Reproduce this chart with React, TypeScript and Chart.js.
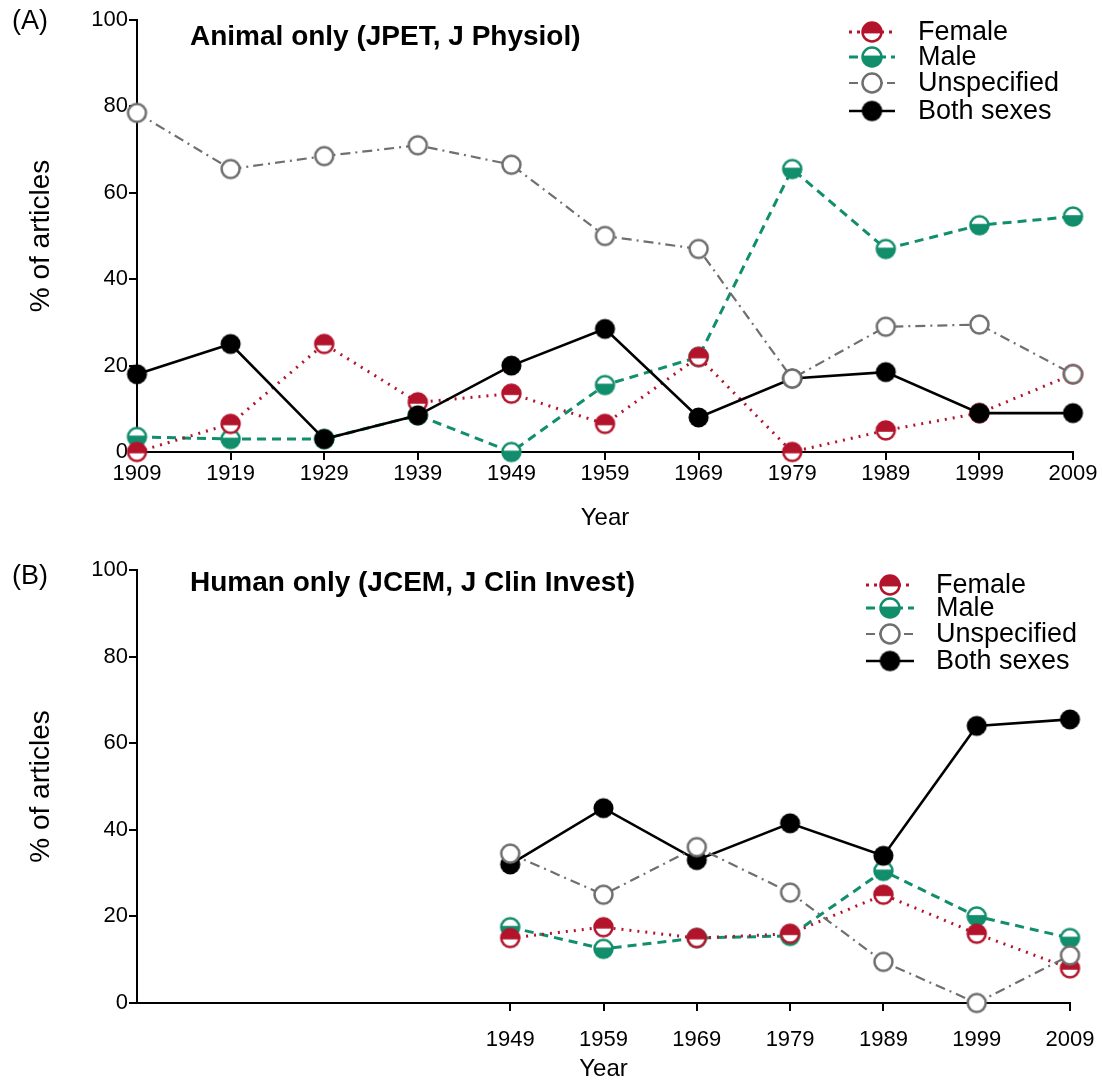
import React, { useEffect, useRef } from "react";
import { Chart, registerables } from "chart.js";
Chart.register(...registerables);

// ---------- data ----------
const yearsA = [1909, 1919, 1929, 1939, 1949, 1959, 1969, 1979, 1989, 1999, 2009];
const femaleA = [0, 6.5, 25, 11.5, 13.5, 6.5, 22, 0, 5, 9, 18];
const maleA = [3.5, 3, 3, 8.5, 0, 15.5, 22, 65.5, 47, 52.5, 54.5];
const unspecA = [78.5, 65.5, 68.5, 71, 66.5, 50, 47, 17, 29, 29.5, 18];
const bothA = [18, 25, 3, 8.5, 20, 28.5, 8, 17, 18.5, 9, 9];

const yearsB = [1949, 1959, 1969, 1979, 1989, 1999, 2009];
const femaleB = [15, 17.5, 15, 16, 25, 16, 8];
const maleB = [17.5, 12.5, 15, 15.5, 30.5, 20, 15];
const unspecB = [34.5, 25, 36, 25.5, 9.5, 0, 11];
const bothB = [32, 45, 33, 41.5, 34, 64, 65.5];

const yTickValues = [0, 20, 40, 60, 80, 100];
const seriesNames = ["Female", "Male", "Unspecified", "Both sexes"];
const titleA = "Animal only (JPET, J Physiol)";
const titleB = "Human only (JCEM, J Clin Invest)";

// ---------- styles ----------
const FONT = '"Liberation Sans", Arial, Helvetica, sans-serif';
const RED = "#b3142c";
const TEAL = "#118e6c";
const GRAY = "#6f6f6f";
const BLACK = "#000000";

type Kind = "female" | "male" | "unspec" | "both";

function makeMarker(kind: Kind, r: number): HTMLCanvasElement {
  const lw = 2.5;
  const size = Math.ceil(2 * (r + lw) + 2);
  const c = document.createElement("canvas");
  c.width = size;
  c.height = size;
  const ctx = c.getContext("2d")!;
  const cx = size / 2;
  const cy = size / 2;
  ctx.lineWidth = lw;
  if (kind === "both") {
    ctx.beginPath();
    ctx.arc(cx, cy, r + lw / 2, 0, Math.PI * 2);
    ctx.fillStyle = BLACK;
    ctx.fill();
    return c;
  }
  const col = kind === "female" ? RED : kind === "male" ? TEAL : GRAY;
  ctx.beginPath();
  ctx.arc(cx, cy, r, 0, Math.PI * 2);
  ctx.fillStyle = "#ffffff";
  ctx.fill();
  if (kind === "female" || kind === "male") {
    ctx.save();
    ctx.beginPath();
    ctx.arc(cx, cy, r, 0, Math.PI * 2);
    ctx.clip();
    ctx.fillStyle = col;
    if (kind === "female") ctx.fillRect(0, 0, size, cy + r * 0.15);
    else ctx.fillRect(0, cy - r * 0.15, size, size);
    ctx.restore();
  }
  ctx.beginPath();
  ctx.arc(cx, cy, r, 0, Math.PI * 2);
  ctx.strokeStyle = col;
  ctx.stroke();
  return c;
}

type Panel = {
  tag: string;
  tagY: number;
  title: string;
  titleY: number;
  legendX: number;
  legendTextX: number;
  legendHalf: number;
  legendY: number[];
  legendFont: number;
};

function seriesStyles(markers: Record<Kind, HTMLCanvasElement>) {
  return [
    { kind: "female" as Kind, color: RED, width: 3, dash: [2, 6], order: 2 },
    { kind: "male" as Kind, color: TEAL, width: 3, dash: [9, 6], order: 3 },
    { kind: "unspec" as Kind, color: GRAY, width: 2.2, dash: [10, 5, 2, 5], order: 0 },
    { kind: "both" as Kind, color: BLACK, width: 2.6, dash: [] as number[], order: 1 },
  ].map((s) => ({ ...s, marker: markers[s.kind] }));
}

function buildChart(
  canvas: HTMLCanvasElement,
  years: number[],
  series: number[][],
  panel: Panel,
  layout: { top: number; right: number; xAxisH: number; tickPad: number; yearPad: number }
) {
  const markers: Record<Kind, HTMLCanvasElement> = {
    female: makeMarker("female", 9),
    male: makeMarker("male", 9),
    unspec: makeMarker("unspec", 9),
    both: makeMarker("both", 8.8),
  };
  const legendMarkers: Record<Kind, HTMLCanvasElement> = {
    female: makeMarker("female", 9.5),
    male: makeMarker("male", 9.5),
    unspec: makeMarker("unspec", 9.5),
    both: makeMarker("both", 9),
  };
  const styles = seriesStyles(markers);
  const lstyles = seriesStyles(legendMarkers);

  const datasets = styles.map((s, i) => ({
    label: seriesNames[i],
    data: years.map((x, j) => ({ x, y: series[i][j] })),
    borderColor: s.color,
    backgroundColor: s.color,
    borderWidth: s.width,
    borderDash: s.dash,
    pointStyle: s.marker as any,
    pointRadius: 10,
    pointHoverRadius: 10,
    fill: false,
    tension: 0,
    clip: false,
    order: s.order,
  }));

  const decor = {
    id: "decor",
    afterDraw(chart: any) {
      const ctx: CanvasRenderingContext2D = chart.ctx;
      ctx.save();
      ctx.fillStyle = BLACK;
      ctx.textBaseline = "middle";
      ctx.textAlign = "left";
      ctx.font = `27px ${FONT}`;
      ctx.fillText(panel.tag, 12, panel.tagY);
      ctx.font = `bold 28px ${FONT}`;
      ctx.fillText(panel.title, 190, panel.titleY);
      ctx.font = `${panel.legendFont}px ${FONT}`;
      lstyles.forEach((s, i) => {
        const y = panel.legendY[i];
        ctx.save();
        ctx.strokeStyle = s.color;
        ctx.lineWidth = s.width;
        ctx.setLineDash(s.kind === "female" ? [3, 5] : s.kind === "male" ? [9, 5] : s.kind === "unspec" ? [9, 4, 2, 4] : []);
        ctx.beginPath();
        ctx.moveTo(panel.legendX - panel.legendHalf, y);
        ctx.lineTo(panel.legendX + panel.legendHalf, y);
        ctx.stroke();
        ctx.restore();
        const m = s.marker;
        ctx.drawImage(m, panel.legendX - m.width / 2, y - m.height / 2);
        ctx.fillStyle = BLACK;
        ctx.fillText(seriesNames[i], panel.legendTextX, y + 1);
      });
      ctx.restore();
    },
  };

  return new Chart(canvas, {
    type: "line",
    data: { datasets: datasets as any },
    plugins: [decor],
    options: {
      animation: false,
      responsive: false,
      maintainAspectRatio: false,
      devicePixelRatio: 1,
      layout: { padding: { left: 0, right: layout.right, top: layout.top, bottom: 0 } },
      plugins: { legend: { display: false }, tooltip: { enabled: false } },
      scales: {
        x: {
          type: "linear",
          min: 1909,
          max: 2009,
          afterBuildTicks: (s: any) => {
            s.ticks = years.map((v) => ({ value: v }));
          },
          afterFit: (s: any) => {
            s.height = layout.xAxisH;
            s.paddingLeft = 0;
            s.paddingRight = 0;
          },
          ticks: {
            autoSkip: false,
            maxRotation: 0,
            padding: layout.tickPad,
            color: BLACK,
            font: { family: FONT, size: 22 },
            callback: (v: any) => String(v),
          },
          grid: { drawOnChartArea: false, drawTicks: true, tickLength: 8, color: BLACK, lineWidth: 2 },
          border: { display: true, color: BLACK, width: 2 },
          title: {
            display: true,
            text: "Year",
            color: BLACK,
            font: { family: FONT, size: 24 },
            padding: { top: 0, bottom: layout.yearPad },
          },
        },
        y: {
          type: "linear",
          min: 0,
          max: 100,
          afterBuildTicks: (s: any) => {
            s.ticks = yTickValues.map((v) => ({ value: v }));
          },
          afterFit: (s: any) => {
            s.width = 137;
            s.paddingTop = 0;
            s.paddingBottom = 0;
          },
          ticks: {
            padding: 1,
            color: BLACK,
            font: { family: FONT, size: 22 },
            callback: (v: any) => String(v),
          },
          grid: { drawOnChartArea: false, drawTicks: true, tickLength: 8, color: BLACK, lineWidth: 2 },
          border: { display: true, color: BLACK, width: 2 },
          title: {
            display: true,
            text: "% of articles",
            color: BLACK,
            font: { family: FONT, size: 28 },
            padding: { top: 24, bottom: 0 },
          },
        },
      },
    } as any,
  });
}

export default function App() {
  const refA = useRef<HTMLCanvasElement>(null);
  const refB = useRef<HTMLCanvasElement>(null);

  useEffect(() => {
    document.body.style.margin = "0";
    document.body.style.background = "#ffffff";
    const a = buildChart(
      refA.current!,
      yearsA,
      [femaleA, maleA, unspecA, bothA],
      {
        tag: "(A)",
        tagY: 22,
        title: titleA,
        titleY: 37,
        legendX: 872,
        legendTextX: 918,
        legendHalf: 23,
        legendY: [32, 57, 83, 111],
        legendFont: 27,
      },
      { top: 20, right: 29, xAxisH: 90, tickPad: 1, yearPad: 9 }
    );
    const b = buildChart(
      refB.current!,
      yearsB,
      [femaleB, maleB, unspecB, bothB],
      {
        tag: "(B)",
        tagY: 35,
        title: titleB,
        titleY: 41,
        legendX: 890,
        legendTextX: 936,
        legendHalf: 24,
        legendY: [43, 66, 92, 119],
        legendFont: 27,
      },
      { top: 28, right: 32, xAxisH: 81, tickPad: 16, yearPad: 0 }
    );
    return () => {
      a.destroy();
      b.destroy();
    };
  }, []);

  return (
    <div style={{ position: "absolute", left: 0, top: 0, width: 1102, height: 1084, background: "#fff" }}>
      <canvas ref={refA} width={1102} height={542} style={{ display: "block", width: 1102, height: 542 }} />
      <canvas ref={refB} width={1102} height={542} style={{ display: "block", width: 1102, height: 542 }} />
    </div>
  );
}
